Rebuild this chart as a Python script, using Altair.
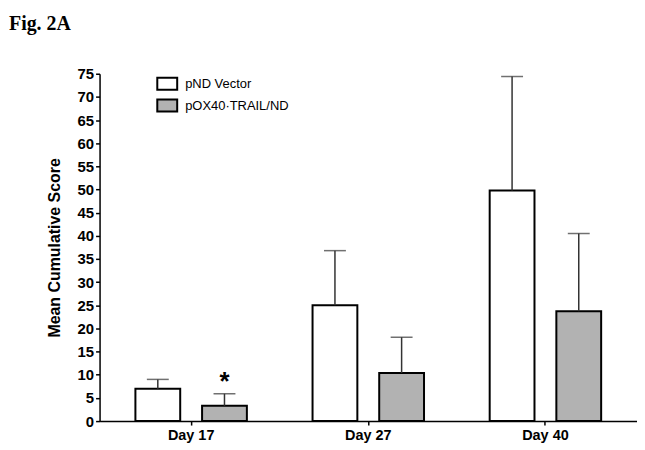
import altair as alt
import pandas as pd

days = ["Day 17", "Day 27", "Day 40"]
groups = ["pND Vector", "pOX40·TRAIL/ND"]
vector_mean = [7.0, 25.0, 49.8]
vector_err = [2.0, 11.8, 24.6]
trail_mean = [3.3, 10.4, 23.7]
trail_err = [2.6, 7.7, 16.8]
vector_sig = ["", "", ""]
trail_sig = ["*", "", ""]
y_ticks = list(range(0, 80, 5))

rows = []
for i, d in enumerate(days):
    rows.append(dict(day=d, group=groups[0], mean=vector_mean[i],
                     upper=vector_mean[i] + vector_err[i], sig=vector_sig[i]))
    rows.append(dict(day=d, group=groups[1], mean=trail_mean[i],
                     upper=trail_mean[i] + trail_err[i], sig=trail_sig[i]))
df = pd.DataFrame(rows)

FONT = "Liberation Sans"
yscale = alt.Scale(domain=[0, 75], nice=False)
yaxis = alt.Axis(values=y_ticks, labelOverlap=False, title="Mean Cumulative Score",
                 titleFont=FONT, titleFontSize=16, titleFontWeight="bold",
                 titleColor="black", titlePadding=15, labelFont=FONT,
                 labelFontWeight="bold", labelFontSize=15, labelColor="black",
                 tickColor="black", domainColor="black", tickSize=4, labelPadding=2,
                 domainWidth=1.5, tickWidth=1.5, grid=False)

x = alt.X("day:N", sort=days,
          scale=alt.Scale(paddingInner=0, paddingOuter=0.017),
          axis=alt.Axis(title=None, labelAngle=0, labelFont=FONT, labelFontWeight="bold",
                        labelFontSize=14.5, labelColor="black", tickColor="black",
                        domainColor="black", tickSize=4, labelPadding=4,
                        domainWidth=1.5, tickWidth=1.5))
xo = alt.XOffset("group:N", sort=groups,
                 scale=alt.Scale(paddingInner=0.328, paddingOuter=0.4925))
y = alt.Y("mean:Q", scale=yscale, axis=yaxis)
y_upper = alt.Y("upper:Q", scale=yscale, axis=yaxis)

base = alt.Chart(df)

bars = base.mark_bar(stroke="black", strokeWidth=2, opacity=1).encode(
    x=x, xOffset=xo, y=y,
    color=alt.Color("group:N", sort=groups,
                    scale=alt.Scale(domain=groups, range=["white", "#b2b2b2"]),
                    legend=alt.Legend(title=None, orient="none", legendX=57, legendY=-1,
                                      symbolType="M-1,-0.6H1V0.6H-1Z", symbolSize=400,
                                      symbolStrokeColor="black", symbolStrokeWidth=2,
                                      symbolOpacity=1, labelFont=FONT, labelFontSize=13,
                                      labelColor="black", labelOffset=7, rowPadding=1,
                                      padding=0)))
rules = base.mark_rule(color="#333333", strokeWidth=1.5).encode(
    x=x, xOffset=xo, y=y, y2="upper:Q")
caps = base.mark_tick(color="#333333", thickness=1.5, size=22, orient="horizontal").encode(
    x=x, xOffset=xo, y=y_upper)
stars = base.mark_text(font=FONT, fontSize=26, fontWeight="bold", color="black",
                       baseline="alphabetic", dy=-4).encode(
    x=x, xOffset=xo, y=y_upper, text="sig:N")

chart = alt.layer(bars, rules, caps, stars).properties(
    width=540, height=349,
    title=alt.TitleParams("Fig. 2A", anchor="start", font="Liberation Serif", fontSize=20,
                          fontWeight="bold", color="black", dx=-91, dy=12, offset=30,
                          baseline="top", frame="group"),
    autosize=alt.AutoSizeParams(type="none"),
    padding={"left": 92, "top": 65, "right": 0, "bottom": 25},
).configure(background="white").configure_view(strokeWidth=0, stroke="transparent")

chart.save("out.html", embed_options={"renderer": "svg", "actions": False})
